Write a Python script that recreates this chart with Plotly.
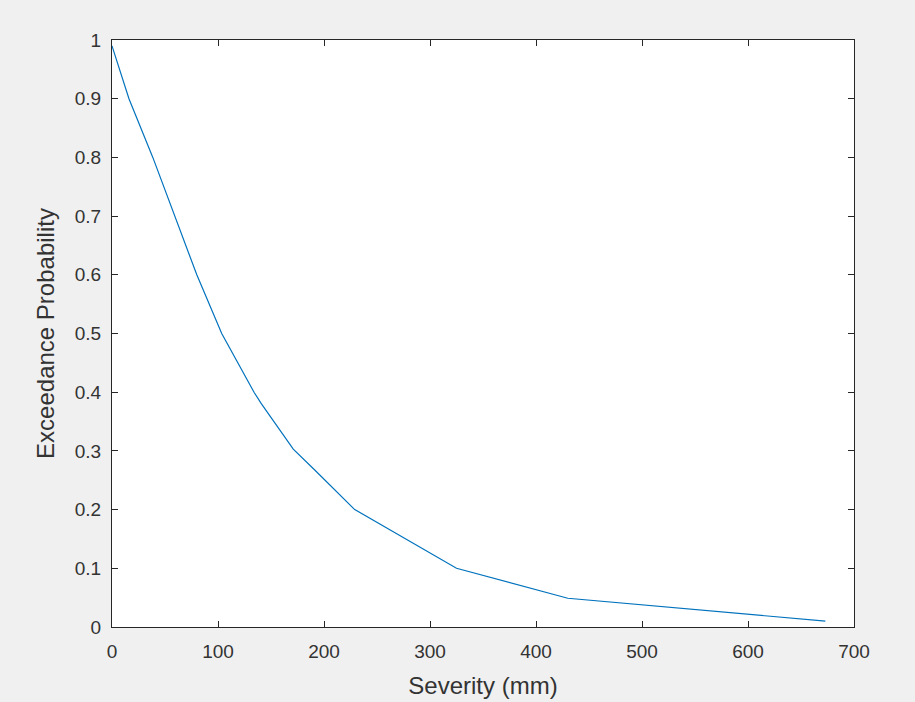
import plotly.graph_objects as go

severity = [0, 16, 38.5, 59.5, 80, 103.5, 122, 134, 141, 171, 191.5, 229, 325, 430, 673]
exceedance = [0.99, 0.9, 0.8, 0.7, 0.6, 0.5, 0.44, 0.4, 0.38, 0.303, 0.267, 0.2, 0.1, 0.049, 0.01]

x_ticks = [0, 100, 200, 300, 400, 500, 600, 700]
y_ticks = [0, 0.1, 0.2, 0.3, 0.4, 0.5, 0.6, 0.7, 0.8, 0.9, 1]
y_labels = ["0", "0.1", "0.2", "0.3", "0.4", "0.5", "0.6", "0.7", "0.8", "0.9", "1"]

fig = go.Figure()
fig.add_trace(go.Scatter(x=severity, y=exceedance, mode="lines",
                         line=dict(color="#0072BD", width=1.2), showlegend=False))

axis_common = dict(showline=True, linecolor="#262626", linewidth=1, mirror="ticks",
                   ticks="inside", ticklen=6, tickcolor="#262626", tickwidth=1,
                   showgrid=False, zeroline=False, automargin=False,
                   tickfont=dict(family="Liberation Sans, Arial", size=19, color="#333333"),
                   title_font=dict(family="Liberation Sans, Arial", size=24, color="#333333"))

fig.update_layout(
    width=915, height=702,
    paper_bgcolor="#f0f0f0", plot_bgcolor="white",
    margin=dict(l=112, r=61, t=40, b=75),
    xaxis=dict(range=[0, 700], tickvals=x_ticks, ticklabelstandoff=7,
               title=dict(text="Severity (mm)", standoff=16), **axis_common),
    yaxis=dict(range=[0, 1], tickvals=y_ticks, ticktext=y_labels, ticklabelstandoff=6,
               title=dict(text="Exceedance Probability", standoff=13), **axis_common),
)

fig.write_html("out.html")
